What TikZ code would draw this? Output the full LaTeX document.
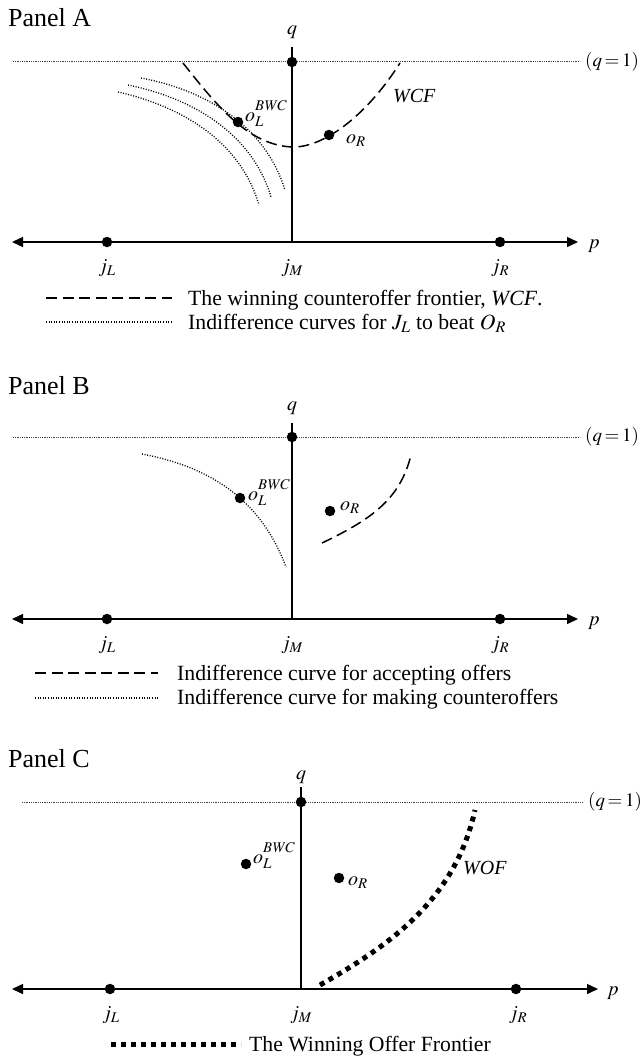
\documentclass[tikz,border=0pt]{standalone}
\usepackage{mathptmx}
\usepackage{fontspec}
\setmainfont{Liberation Serif}
\usetikzlibrary{arrows.meta}
\newcommand{\bwc}{\raisebox{3pt}{$\scriptstyle\mathit{BWC}$}}
\tikzset{>={Triangle[length=11pt,width=10pt]},
  every node/.style={font=\fontsize{20}{24}\selectfont,inner sep=0pt},
  axis/.style={<->,line width=1.5pt},
  qaxis/.style={line width=1.3pt},
  unitline/.style={draw=black!75,line width=1pt,dash pattern=on 1pt off .8pt},
  frontier/.style={line width=1.5pt,dash pattern=on 11pt off 5.5pt},
  indiff/.style={line width=1.3pt,dash pattern=on 1pt off 1.6pt},
  winning/.style={line width=5pt,dash pattern=on 5pt off 5pt},
  dot/.style={circle,fill,minimum size=10.5pt},
  paneltitle/.style={font=\fontsize{26}{30}\selectfont,anchor=base west},
  keytext/.style={font=\fontsize{21.7}{26}\selectfont,anchor=base west},
  tag/.style={anchor=base west},
  unittag/.style={font=\fontsize{19}{22}\selectfont,anchor=west,inner xsep=5pt}}

\begin{document}
\begin{tikzpicture}[x=1pt,y=1pt]
\useasboundingbox (0,0) rectangle (641,-1057);
% Panel A: winning counteroffer frontier and the indifference curves through o_L
\node[paneltitle] (a-title) at (8,-27) {Panel A};
\coordinate (a-west) at (12,-242);\coordinate (a-east) at (578,-242);
\coordinate (a-top) at (292,-47);\coordinate (a-base) at (292,-242);\coordinate (a-unit) at (13,-62);
\node[unittag] (a-one) at (580,-62) {$(q\:{=}\:1)$};\draw[unitline] (a-unit) -- (a-one);
\draw[qaxis] (a-top) -- (a-base);\draw[axis] (a-west) -- (a-east);
\node[anchor=base] (a-q) at (292,-35) {$q$};\node[tag] (a-p) at (588,-248) {$p$};
\node[dot] (a-qone) at (292,-62) {};\node[dot] (a-jl) at (107,-242) {};\node[dot] (a-jr) at (500,-242) {};
\node[anchor=north] (a-jl-lab) at (107,-259) {$j_L$};\node[anchor=north] (a-jm-lab) at (292,-259) {$j_M$};
\node[anchor=north] (a-jr-lab) at (500,-259) {$j_R$};
\draw[indiff] (141,-78) .. controls (205,-90) and (265,-125) .. (285,-190);
\draw[indiff] (128,-85) .. controls (192,-98) and (252,-133) .. (271,-197);
\draw[indiff] (118,-92) .. controls (180,-106) and (240,-140) .. (259,-205);
\draw[frontier] (183,-63) .. controls (220,-110) and (250,-145) .. (292,-147)
  .. controls (322,-148) and (365,-118) .. (400,-63);
\node[dot] (a-ol) at (238,-122) {};\node[dot] (a-or) at (329,-135) {};
\node[tag] (a-ol-lab) at (245,-121) {$o_L^{\bwc}$};\node[tag] (a-or-lab) at (346,-143) {$o_R$};
\node[tag] (a-wcf) at (393,-102) {\textit{WCF}};
\coordinate (a-k1) at (46,-298);\coordinate (a-k1e) at (172,-298);\draw[frontier] (a-k1) -- (a-k1e);
\node[keytext] (a-key1) at (188,-305) {The winning counteroffer frontier, \textit{WCF}.};
\coordinate (a-k2) at (46,-322);\coordinate (a-k2e) at (172,-322);\draw[indiff] (a-k2) -- (a-k2e);
\node[keytext] (a-key2) at (188,-329) {Indifference curves for $J_L$ to beat $O_R$};
% Panel B: the two indifference curves
\node[paneltitle] (b-title) at (8,-394) {Panel B};
\coordinate (b-west) at (12,-619);\coordinate (b-east) at (578,-619);
\coordinate (b-top) at (292,-423);\coordinate (b-base) at (292,-619);\coordinate (b-unit) at (13,-437);
\node[unittag] (b-one) at (580,-437) {$(q\:{=}\:1)$};\draw[unitline] (b-unit) -- (b-one);
\draw[qaxis] (b-top) -- (b-base);\draw[axis] (b-west) -- (b-east);
\node[anchor=base] (b-q) at (292,-410) {$q$};\node[tag] (b-p) at (588,-625) {$p$};
\node[dot] (b-qone) at (292,-437) {};\node[dot] (b-jl) at (107,-619) {};\node[dot] (b-jr) at (500,-619) {};
\node[anchor=north] (b-jl-lab) at (107,-636) {$j_L$};\node[anchor=north] (b-jm-lab) at (292,-636) {$j_M$};
\node[anchor=north] (b-jr-lab) at (500,-636) {$j_R$};
\draw[indiff] (142,-454) .. controls (200,-465) and (258,-492) .. (286,-567);
\draw[frontier] (322,-543) .. controls (370,-520) and (400,-500) .. (411,-455);
\node[dot] (b-ol) at (240,-498) {};\node[dot] (b-or) at (330,-511) {};
\node[tag] (b-ol-lab) at (248,-500) {$o_L^{\bwc}$};\node[tag] (b-or-lab) at (340,-510) {$o_R$};
\coordinate (b-k1) at (35,-673);\coordinate (b-k1e) at (158,-673);\draw[frontier] (b-k1) -- (b-k1e);
\node[keytext] (b-key1) at (177,-680) {Indifference curve for accepting offers};
\coordinate (b-k2) at (35,-698);\coordinate (b-k2e) at (158,-698);\draw[indiff] (b-k2) -- (b-k2e);
\node[keytext] (b-key2) at (177,-704) {Indifference curve for making counteroffers};
% Panel C: winning offer frontier
\node[paneltitle] (c-title) at (8,-767) {Panel C};
\coordinate (c-west) at (12,-989);\coordinate (c-east) at (598,-989);
\coordinate (c-top) at (301,-787);\coordinate (c-base) at (301,-989);\coordinate (c-unit) at (22,-802);
\node[unittag] (c-one) at (583,-802) {$(q\:{=}\:1)$};\draw[unitline] (c-unit) -- (c-one);
\draw[qaxis] (c-top) -- (c-base);\draw[axis] (c-west) -- (c-east);
\node[anchor=base] (c-q) at (301,-779) {$q$};\node[tag] (c-p) at (607,-995) {$p$};
\node[dot] (c-qone) at (301,-802) {};\node[dot] (c-jl) at (110,-989) {};\node[dot] (c-jr) at (516,-989) {};
\node[anchor=north] (c-jl-lab) at (111,-1006) {$j_L$};\node[anchor=north] (c-jm-lab) at (301,-1006) {$j_M$};
\node[anchor=north] (c-jr-lab) at (518,-1006) {$j_R$};
\draw[winning] (320,-985) .. controls (390,-945) and (455,-900) .. (475,-810);
\node[dot] (c-ol) at (246,-864) {};\node[dot] (c-or) at (339,-878) {};
\node[tag] (c-ol-lab) at (253,-863) {$o_L^{\bwc}$};\node[tag] (c-or-lab) at (348,-885) {$o_R$};
\node[tag] (c-wof) at (463,-874) {\textit{WOF}};
\coordinate (c-k1) at (111,-1044);\coordinate (c-k1e) at (241,-1044);\draw[winning] (c-k1) -- (c-k1e);
\node[keytext] (c-key1) at (249,-1051) {The Winning Offer Frontier};
\end{tikzpicture}
\end{document}
